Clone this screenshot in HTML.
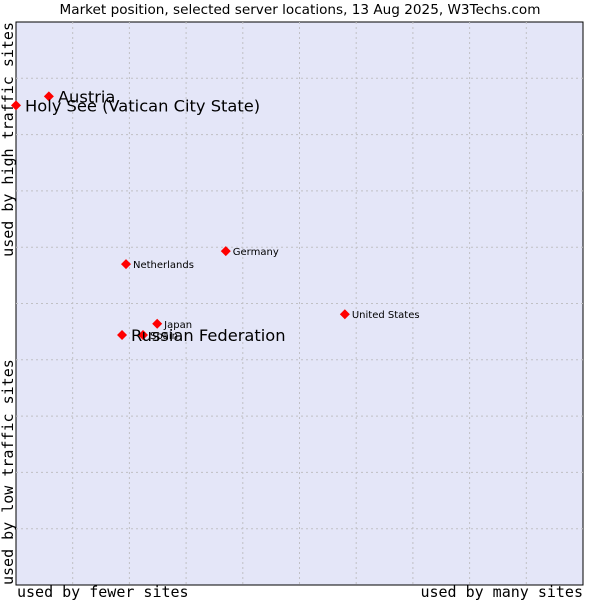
<!DOCTYPE html>
<html><head><meta charset="utf-8"><style>
body{margin:0;background:#fff;width:600px;height:600px;overflow:hidden}
svg{display:block}
</style></head><body>
<svg width="600" height="600">
<text x="300" y="14" text-anchor="middle" font-family="DejaVu Sans, sans-serif" font-size="13.6" fill="#000">Market position, selected server locations, 13 Aug 2025, W3Techs.com</text>
<rect x="16" y="22" width="567" height="563" fill="#e4e6f8" stroke="#000" stroke-width="1"/>
<g id="grid"></g>
<text transform="translate(13,22) rotate(-90)" text-anchor="end" font-family="DejaVu Sans Mono, Liberation Mono, monospace" font-size="15">used by high traffic sites</text>
<text transform="translate(13,585) rotate(-90)" text-anchor="start" font-family="DejaVu Sans Mono, Liberation Mono, monospace" font-size="15">used by low traffic sites</text>
<text x="17" y="597" font-family="DejaVu Sans Mono, Liberation Mono, monospace" font-size="15">used by fewer sites</text>
<text x="583" y="597" text-anchor="end" font-family="DejaVu Sans Mono, Liberation Mono, monospace" font-size="15">used by many sites</text>
<g id="points"></g>
</svg>
<script>
const countries=["Austria","Holy See (Vatican City State)","Netherlands","Germany","United States","Japan","Spain","Russian Federation"];
const xValues=[5.8,0,19.4,37.0,58.0,24.9,22.4,18.7];
const yValues=[86.8,85.2,57.0,59.3,48.1,46.4,44.4,44.4];
const bigLabel=[true,true,false,false,false,false,false,true];
const NS="http://www.w3.org/2000/svg";
const L=16,T=22,W=567,H=563;
const sx=v=>L+v/100*W, sy=v=>T+H-v/100*H;
const grid=document.getElementById('grid');
for(let i=1;i<10;i++){
  const x=L+i*W/10,y=T+i*H/10;
  const a=document.createElementNS(NS,'line');
  a.setAttribute('x1',x);a.setAttribute('x2',x);a.setAttribute('y1',T);a.setAttribute('y2',T+H);
  a.setAttribute('stroke','#c0c0c4');a.setAttribute('stroke-dasharray','2,3');
  
  
  grid.appendChild(a);
  const b=document.createElementNS(NS,'line');
  b.setAttribute('y1',y);b.setAttribute('y2',y);b.setAttribute('x1',L);b.setAttribute('x2',L+W);
  b.setAttribute('stroke','#c0c0c4');b.setAttribute('stroke-dasharray','2,3');
  
  
  grid.appendChild(b);
}
const pts=document.getElementById('points');
countries.forEach((c,i)=>{
  const x=sx(xValues[i]),y=sy(yValues[i]);
  const p=document.createElementNS(NS,'polygon');
  p.setAttribute('points',`${x},${y-5} ${x+5},${y} ${x},${y+5} ${x-5},${y}`);
  p.setAttribute('fill','#ff0000');
  
  
  pts.appendChild(p);
  const t=document.createElementNS(NS,'text');
  t.setAttribute('x',x+(bigLabel[i]?9:7));
  t.setAttribute('y',y+(bigLabel[i]?6:4));
  t.setAttribute('font-family','DejaVu Sans, sans-serif');
  t.setAttribute('font-size',bigLabel[i]?'16.3':'10');
  t.setAttribute('fill','#000');
  t.textContent=c;
  
  
  pts.appendChild(t);
});
</script>
</body></html>
